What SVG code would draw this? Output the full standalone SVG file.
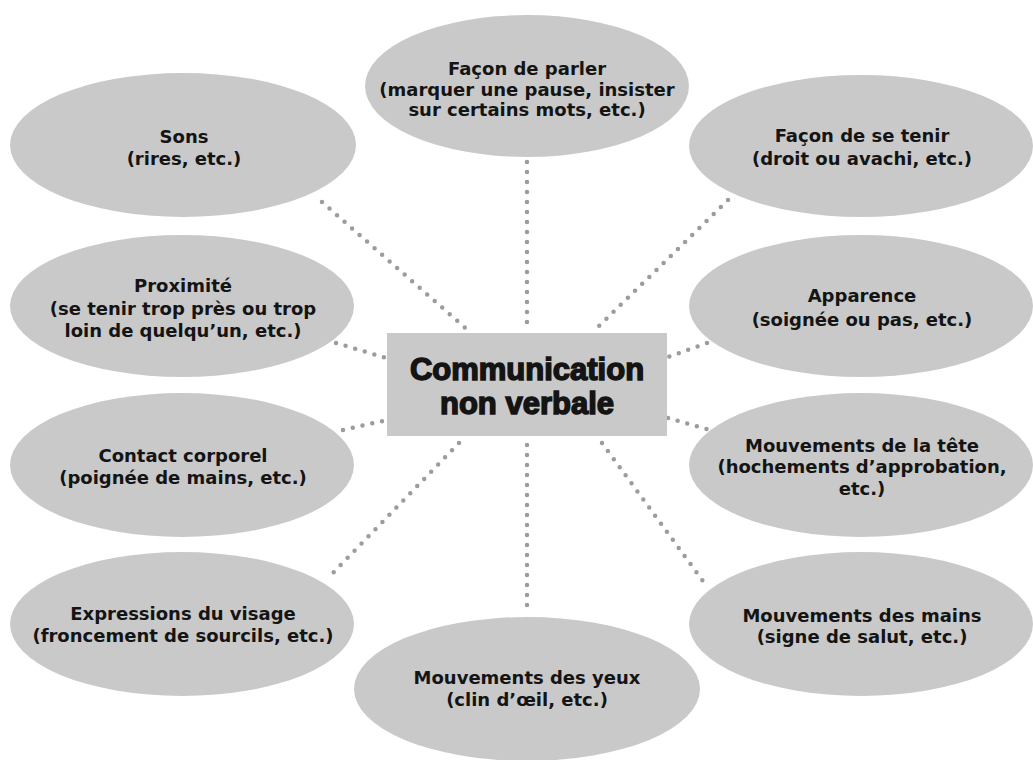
<svg xmlns="http://www.w3.org/2000/svg" width="1033" height="760" viewBox="0 0 1033 760">
<style>
.bg{fill:#ffffff}
.node ellipse,.node rect{fill:#c9c9c9}
.node text{font-family:"DejaVu Sans","Liberation Sans",sans-serif;font-weight:bold;font-size:18px;fill:#141414;text-anchor:middle;letter-spacing:0px}
#center text{font-family:"Liberation Sans",Arial,sans-serif;font-size:31px;letter-spacing:0px;stroke:#141414;stroke-width:1.5px}
#connectors line{stroke:#9c9c9c;stroke-width:4.5;stroke-linecap:round;stroke-dasharray:0 10;fill:none}
</style>
<rect class="bg" x="0" y="0" width="1033" height="760"/>
<g id="connectors">
<line x1="527" y1="162" x2="527" y2="332"/>
<line x1="322" y1="202" x2="470" y2="332"/>
<line x1="728" y1="200" x2="597" y2="328"/>
<line x1="336" y1="343" x2="386" y2="358"/>
<line x1="707" y1="343" x2="668" y2="357"/>
<line x1="343" y1="430" x2="387" y2="420"/>
<line x1="668" y1="418" x2="710" y2="430"/>
<line x1="459" y1="443" x2="331" y2="575"/>
<line x1="527" y1="445" x2="527" y2="610"/>
<line x1="602" y1="443" x2="708" y2="588"/>
</g>
<g id="node-parler" class="node">
<ellipse cx="527" cy="86" rx="162" ry="71"/>
<text x="527" y="75">Façon de parler</text>
<text x="527" y="96">(marquer une pause, insister</text>
<text x="527" y="116">sur certains mots, etc.)</text>
</g>
<g id="node-sons" class="node">
<ellipse cx="183" cy="145" rx="173" ry="72"/>
<text x="184" y="143">Sons</text>
<text x="184" y="165">(rires, etc.)</text>
</g>
<g id="node-tenir" class="node">
<ellipse cx="861" cy="146" rx="172" ry="71"/>
<text x="862" y="142">Façon de se tenir</text>
<text x="862" y="165">(droit ou avachi, etc.)</text>
</g>
<g id="node-proximite" class="node">
<ellipse cx="182" cy="306" rx="172" ry="71"/>
<text x="183" y="292">Proximité</text>
<text x="183" y="315">(se tenir trop près ou trop</text>
<text x="183" y="337">loin de quelqu’un, etc.)</text>
</g>
<g id="node-apparence" class="node">
<ellipse cx="861" cy="306" rx="172" ry="71"/>
<text x="862" y="302">Apparence</text>
<text x="862" y="326">(soignée ou pas, etc.)</text>
</g>
<g id="node-contact" class="node">
<ellipse cx="182" cy="465" rx="172" ry="72"/>
<text x="183" y="462">Contact corporel</text>
<text x="183" y="484">(poignée de mains, etc.)</text>
</g>
<g id="node-tete" class="node">
<ellipse cx="861" cy="465" rx="172" ry="72"/>
<text x="862" y="452">Mouvements de la tête</text>
<text x="862" y="473">(hochements d’approbation,</text>
<text x="862" y="495">etc.)</text>
</g>
<g id="node-expressions" class="node">
<ellipse cx="182" cy="624" rx="172" ry="72"/>
<text x="183" y="620">Expressions du visage</text>
<text x="183" y="642">(froncement de sourcils, etc.)</text>
</g>
<g id="node-mains" class="node">
<ellipse cx="861" cy="624" rx="172" ry="72"/>
<text x="862" y="622">Mouvements des mains</text>
<text x="862" y="643">(signe de salut, etc.)</text>
</g>
<g id="node-yeux" class="node">
<ellipse cx="527" cy="689" rx="173" ry="72"/>
<text x="527" y="684">Mouvements des yeux</text>
<text x="527" y="706">(clin d’œil, etc.)</text>
</g>
<g id="center" class="node">
<rect x="387" y="333" width="280" height="103"/>
<text x="527" y="380">Communication</text>
<text x="527" y="414">non verbale</text>
</g>
</svg>
